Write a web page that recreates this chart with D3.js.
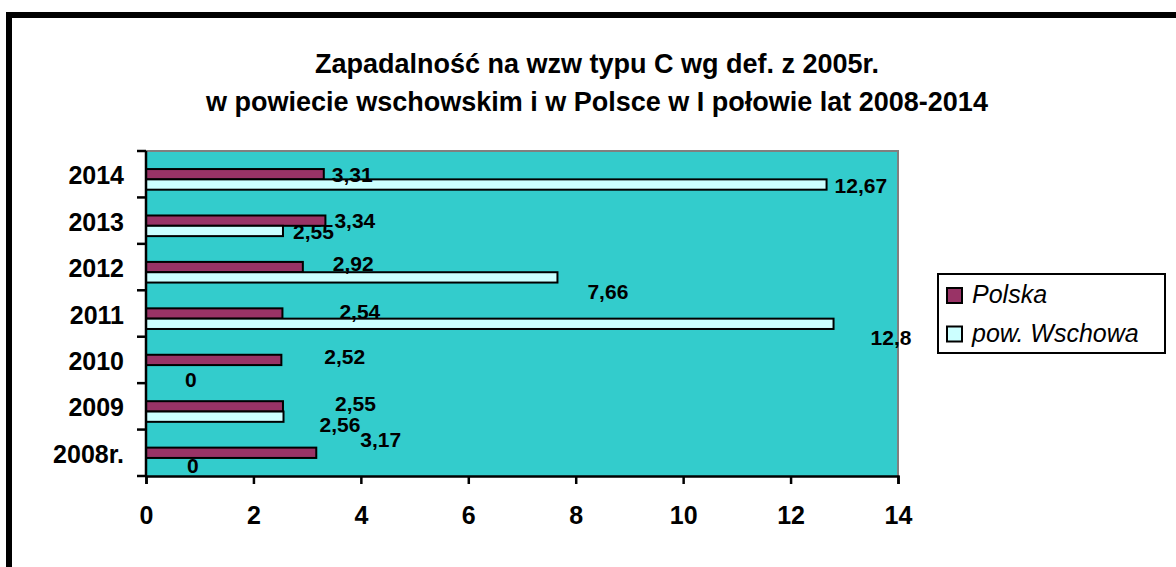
<!DOCTYPE html>
<html>
<head>
<meta charset="utf-8">
<script src="https://cdn.jsdelivr.net/npm/d3@7"></script>
<style>
  body { margin: 0; background: #fff; }
  svg { display: block; font-family: Arial, "Liberation Sans", sans-serif; }
</style>
</head>
<body>
<svg id="chart" width="1176" height="567"></svg>
<script>
const years = ['2008r.', '2009', '2010', '2011', '2012', '2013', '2014']
const polska = [3.17, 2.55, 2.52, 2.54, 2.92, 3.34, 3.31]
const wschowa = [0, 2.56, 0, 12.8, 7.66, 2.55, 12.67]
const xTicks = [0, 2, 4, 6, 8, 10, 12, 14]
const seriesNames = ['Polska', 'pow. Wschowa']
const titleLines = [
  'Zapadalność na wzw typu C wg def. z 2005r.',
  'w powiecie wschowskim i w Polsce w I połowie lat 2008-2014'
]

// labels were dragged around by hand in the original, extra [dx, dy] nudges
const polskaNudge = [[36, -13], [44, -3], [35, -3], [49, -2], [22, -4], [1, 0], [0, 0]]
const wschowaNudge = [[33, 2], [28, 8], [31, 9], [29, 14], [22, 14], [2, 0], [0, 1]]

const colors = {Polska: '#993366', 'pow. Wschowa': '#CCFFFF'}
const plotBg = '#33CCCC'

const svg = d3.select('#chart')
const plot = {left: 146, top: 151, right: 898, bottom: 476}

// outer frame (cut off at right and bottom in the original)
svg.append('rect')
  .attr('x', 9).attr('y', 15)
  .attr('width', 1300).attr('height', 700)
  .attr('fill', 'none').attr('stroke', '#000').attr('stroke-width', 6)

svg.append('g')
  .selectAll('text')
  .data(titleLines)
  .enter()
  .append('text')
  .attr('x', 597)
  .attr('y', (d, i) => 73 + i * 38)
  .attr('text-anchor', 'middle')
  .attr('font-size', 27)
  .attr('font-weight', 'bold')
  .text(d => d)

const x = d3.scaleLinear().domain([0, 14]).range([plot.left, plot.right])
const y = d3.scaleBand().domain(years.slice().reverse()).range([plot.top, plot.bottom])
// Excel left an empty third slot above the two series
const sub = d3.scaleBand()
  .domain(['', ...seriesNames])
  .range([0, y.bandwidth()])
  .paddingInner(0)
  .paddingOuter(0.75)

svg.append('rect')
  .attr('x', plot.left).attr('y', plot.top)
  .attr('width', plot.right - plot.left).attr('height', plot.bottom - plot.top)
  .attr('fill', plotBg)
svg.append('path')
  .attr('d', `M${plot.left},${plot.top}H${plot.right}V${plot.bottom}`)
  .attr('fill', 'none').attr('stroke', '#808080').attr('stroke-width', 2)

const rows = years.map((year, i) => ({
  year,
  values: [
    {name: 'Polska', v: polska[i], nudge: polskaNudge[i]},
    {name: 'pow. Wschowa', v: wschowa[i], nudge: wschowaNudge[i]}
  ]
}))

const groups = svg.append('g')
  .selectAll('g')
  .data(rows)
  .enter()
  .append('g')
  .attr('transform', d => `translate(0, ${y(d.year)})`)

groups.selectAll('rect')
  .data(d => d.values.filter(v => v.v > 0))
  .enter()
  .append('rect')
  .attr('x', x(0))
  .attr('y', d => sub(d.name))
  .attr('width', d => x(d.v) - x(0))
  .attr('height', sub.bandwidth())
  .attr('fill', d => colors[d.name])
  .attr('stroke', '#000')
  .attr('stroke-width', 2)

groups.selectAll('text')
  .data(d => d.values)
  .enter()
  .append('text')
  .attr('x', d => x(d.v) + 8 + d.nudge[0])
  .attr('y', d => sub(d.name) + sub.bandwidth() / 2 + d.nudge[1])
  .attr('dy', '0.36em')
  .attr('font-size', 21)
  .attr('font-weight', 'bold')
  .text(d => String(d.v).replace('.', ','))

// axes
const xAxis = d3.axisBottom(x).tickValues(xTicks).tickSize(8).tickPadding(22)
const gx = svg.append('g')
  .attr('transform', `translate(0, ${plot.bottom})`)
  .call(xAxis)
gx.select('.domain').attr('stroke', '#000').attr('stroke-width', 2.5)
gx.selectAll('.tick line').attr('stroke', '#000').attr('stroke-width', 2.5)
gx.selectAll('.tick text')
  .attr('font-size', 25).attr('font-weight', 'bold')
  .attr('font-family', 'Arial, "Liberation Sans", sans-serif').attr('fill', '#000')

const gy = svg.append('g').attr('transform', `translate(${plot.left}, 0)`)
gy.append('line')
  .attr('y1', plot.top).attr('y2', plot.bottom)
  .attr('stroke', '#000').attr('stroke-width', 2.5)
gy.selectAll('.tk')
  .data(d3.range(years.length + 1))
  .enter()
  .append('line')
  .attr('x1', -9).attr('x2', 0)
  .attr('y1', i => plot.top + i * y.step())
  .attr('y2', i => plot.top + i * y.step())
  .attr('stroke', '#000').attr('stroke-width', 2.5)
gy.selectAll('text')
  .data(years)
  .enter()
  .append('text')
  .attr('x', -22)
  .attr('y', d => y(d) + y.bandwidth() / 2 + 1)
  .attr('dy', '0.36em')
  .attr('text-anchor', 'end')
  .attr('font-size', 25)
  .attr('font-weight', 'bold')
  .text(d => d)

// legend
const legend = svg.append('g').attr('transform', 'translate(938, 274)')
legend.append('rect')
  .attr('width', 227).attr('height', 79)
  .attr('fill', '#fff').attr('stroke', '#000').attr('stroke-width', 2)
const items = legend.selectAll('g')
  .data(seriesNames)
  .enter()
  .append('g')
  .attr('transform', (d, i) => `translate(9, ${14 + i * 38.5})`)
items.append('rect')
  .attr('width', 15).attr('height', 15)
  .attr('fill', d => colors[d])
  .attr('stroke', '#000').attr('stroke-width', 2)
items.append('text')
  .attr('x', 25).attr('y', 15)
  .attr('font-size', 25)
  .attr('font-style', 'italic')
  .text(d => d)
</script>
</body>
</html>
